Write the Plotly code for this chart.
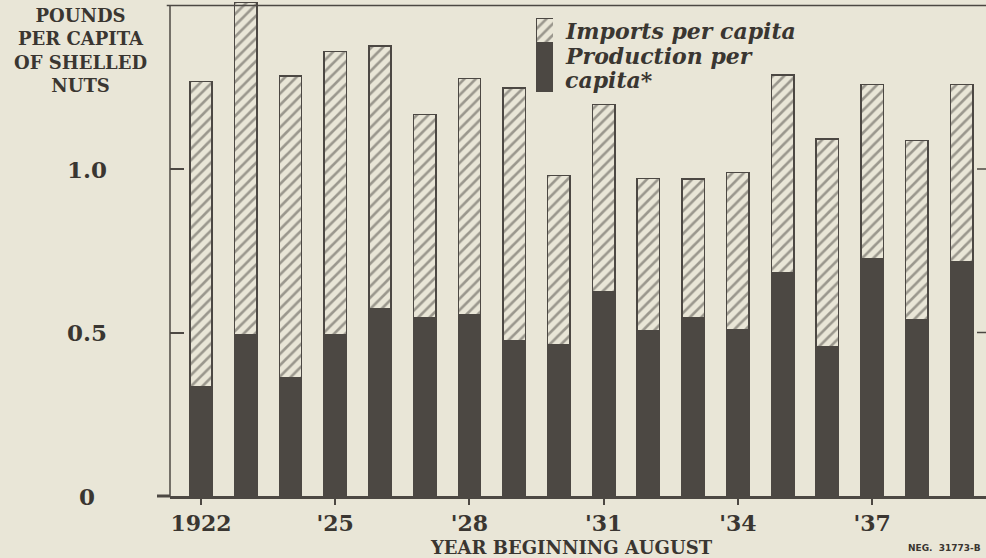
import plotly.graph_objects as go

# Data (pounds per capita of shelled nuts)
years = list(range(1922, 1940))
production = [0.334, 0.492, 0.362, 0.492, 0.574, 0.545, 0.553, 0.475, 0.462,
              0.625, 0.506, 0.545, 0.508, 0.684, 0.457, 0.727, 0.538, 0.717]
imports = [0.933, 1.017, 0.922, 0.867, 0.802, 0.622, 0.724, 0.772, 0.518,
           0.573, 0.465, 0.424, 0.482, 0.603, 0.634, 0.532, 0.549, 0.542]
tick_years = [1922, 1925, 1928, 1931, 1934, 1937]
tick_text = ["1922", "'25", "'28", "'31", "'34", "'37"]
y_ticks = [0.5, 1.0]
y_tick_text = ["0.5", "1.0"]

CREAM = "#e9e6d7"
DARK = "#4c4843"
INK = "#3a3631"
SERIF = "DejaVu Serif"

W, H = 986, 558
L, B = 170, 62
plot_w, plot_h = W - L, H - B


def px_x(x):
    return (x - L) / plot_w


def px_y(y):
    return (plot_h - y) / plot_h


hatch = dict(shape="/", size=8, solidity=0.33, fgcolor=DARK, bgcolor=CREAM)

fig = go.Figure()

fig.add_trace(
    go.Bar(
        x=years,
        y=production,
        name="Production per capita*",
        width=0.5,
        marker=dict(color=DARK, line=dict(color=DARK, width=1.5)),
    )
)

fig.add_trace(
    go.Bar(
        x=years,
        y=imports,
        name="Imports per capita",
        width=0.5,
        marker=dict(color=CREAM, pattern=hatch, line=dict(color=DARK, width=1.5)),
    )
)

# legend swatch drawn as a tiny stacked bar on an inset axis
fig.add_trace(
    go.Bar(x=[0], y=[2], width=1, xaxis="x2", yaxis="y2", showlegend=False,
           marker=dict(color=DARK, line=dict(color=DARK, width=1)), hoverinfo="skip")
)
fig.add_trace(
    go.Bar(x=[0], y=[1], width=1, xaxis="x2", yaxis="y2", showlegend=False,
           marker=dict(color=CREAM, pattern=hatch, line=dict(color=DARK, width=1)),
           hoverinfo="skip")
)

y_top = plot_h / 327.0

fig.update_layout(
    width=W,
    height=H,
    barmode="stack",
    showlegend=False,
    paper_bgcolor=CREAM,
    plot_bgcolor=CREAM,
    margin=dict(l=L, r=0, t=0, b=B),
    font=dict(family=SERIF, color=INK),
    xaxis=dict(
        range=[1922 - 31 / 44.74, 1922 - 31 / 44.74 + plot_w / 44.74],
        tickvals=tick_years,
        ticktext=tick_text,
        tickfont=dict(family=SERIF, size=22, color=INK, weight="bold"),
        ticks="outside",
        ticklen=6,
        tickcolor=DARK,
        tickwidth=1.5,
        showline=True,
        linecolor=DARK,
        linewidth=3,
        showgrid=False,
        zeroline=False,
    ),
    yaxis=dict(
        range=[0, y_top],
        tickvals=y_ticks,
        ticks="inside",
        ticklen=14,
        tickcolor=DARK,
        tickwidth=1.5,
        showticklabels=False,
        showline=False,
        showgrid=False,
        zeroline=False,
    ),
    xaxis2=dict(domain=[px_x(536), px_x(553)], range=[-0.5, 0.5], anchor="y2",
                visible=False),
    yaxis2=dict(domain=[px_y(92), px_y(18)], range=[0, 3], anchor="x2",
                visible=False),
)

# frame: left axis line, top border, right ticks, stub left of the origin
fig.add_shape(type="line", xref="paper", yref="y", x0=0, x1=0, y0=0, y1=1.5,
              line=dict(color=DARK, width=1.5))
fig.add_shape(type="line", xref="paper", yref="y", x0=-0.004, x1=1, y0=1.5, y1=1.5,
              line=dict(color=DARK, width=1.5))
fig.add_shape(type="line", xref="paper", yref="paper", x0=px_x(157), x1=0, y0=0, y1=0,
              line=dict(color=DARK, width=3))
for v in y_ticks:
    fig.add_shape(type="line", xref="paper", yref="y", x0=px_x(977), x1=1, y0=v, y1=v,
                  line=dict(color=DARK, width=1.5))

# y tick labels (centred in the left margin, as in the original)
for v, t in zip([0] + y_ticks, ["0"] + y_tick_text):
    fig.add_annotation(x=px_x(87), y=v, xref="paper", yref="y", text=f"<b>{t}</b>",
                       showarrow=False, xanchor="center", yanchor="middle",
                       font=dict(family=SERIF, size=23, color=INK))

# y axis title
fig.add_annotation(
    x=px_x(80), y=px_y(3), xref="paper", yref="paper",
    text="<b>POUNDS<br>PER CAPITA<br>OF SHELLED<br>NUTS</b>",
    showarrow=False, xanchor="center", yanchor="top", align="center",
    font=dict(family=SERIF, size=18, color=INK),
)

# x axis title
fig.add_annotation(
    x=px_x(571), y=px_y(547), xref="paper", yref="paper",
    text="<b>YEAR BEGINNING AUGUST</b>", showarrow=False,
    xanchor="center", yanchor="middle", font=dict(family=SERIF, size=18, color=INK),
)

fig.add_annotation(
    x=px_x(983), y=px_y(548), xref="paper", yref="paper",
    text="<b>NEG.  31773-B</b>", showarrow=False,
    xanchor="right", yanchor="middle", font=dict(family="DejaVu Sans", size=9, color=INK),
)

# legend labels
for text, yc in [("Imports per capita", 31), ("Production per", 56), ("capita*", 80)]:
    fig.add_annotation(
        x=px_x(563), y=px_y(yc), xref="paper", yref="paper",
        text=f"<b><i>{text}</i></b>", showarrow=False,
        xanchor="left", yanchor="middle", font=dict(family=SERIF, size=22, color=INK),
    )

# the page's default body margin would shift the figure off the window
fig.write_html(
    "out.html",
    config={"displayModeBar": False},
    post_script="document.body.style.margin='0';",
)
